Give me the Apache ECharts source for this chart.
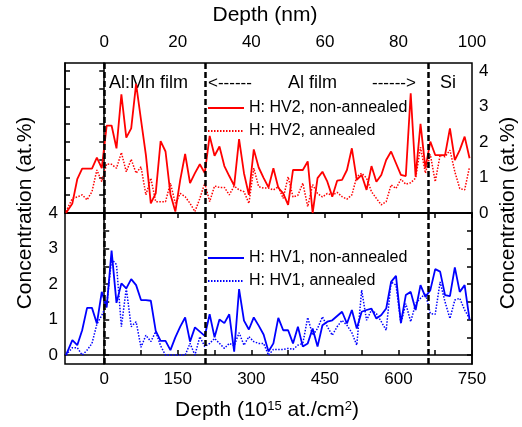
<!DOCTYPE html>
<html>
<head>
<meta charset="utf-8">
<script src="https://cdn.jsdelivr.net/npm/echarts@6/dist/echarts.min.js"></script>
<style>
  html, body { margin: 0; padding: 0; background: #fff; }
  #chart { width: 522px; height: 427px; }
</style>
</head>
<body>
<div id="chart"></div>
<script>
// depth in 10^15 at./cm2 (shared by all four profiles)
var depth = [-78, -65, -55, -45, -35, -25, -15, -5, 5, 15,
  25, 35, 45, 55, 65, 75, 85, 95, 105, 115,
  125, 135, 145, 155, 165, 175, 185, 195, 205, 215,
  225, 235, 245, 255, 265, 275, 285, 295, 305, 315,
  325, 335, 345, 355, 365, 375, 385, 395, 405, 415,
  425, 435, 445, 455, 465, 475, 485, 495, 505, 515,
  525, 535, 545, 555, 565, 575, 585, 595, 605, 615,
  625, 635, 645, 655, 665, 675, 685, 695, 705, 715,
  725, 735, 745];

// H concentration (at.%)
var hv2NonAnnealed = [0, 0.27, 0.95, 1.25, 1.25, 1.25, 1.56, 1.26, 2.46, 2.46,
  1.82, 3.34, 2.12, 2.38, 3.63, 2.62, 1.63, 0.27, 0.55, 2.02,
  1.73, 0.53, 0.04, 0.93, 1.66, 0.84, 1.12, 1.37, 1.12, 2.17,
  1.61, 1.87, 1.32, 1.04, 0.77, 2.08, 1.12, 0.51, 1.79, 1.28,
  0.99, 0.72, 1.26, 0.71, 0.55, 0.23, 1.21, 1.21, 1.21, 1.45,
  0, 0.98, 1.16, 0.88, 0.46, 0.91, 0.93, 1.21, 1.82, 0.93,
  1.07, 0.65, 1.32, 0.88, 1.07, 1.49, 1.73, 1.40, 1.07, 1.04,
  3.37, 1.02, 2.51, 1.26, 2.01, 1.63, 1.63, 1.63, 2.38, 1.49,
  1.77, 2.15, 1.54];
var hv2Annealed = [0.04, 0.41, 0.45, 0.51, 0.37, 0.6, 1.21, 0.88, 1.38, 1.37,
  1.26, 1.70, 1.16, 1.51, 1.12, 1.30, 0.51, 0.98, 0.32, 0.32,
  0.32, 0.84, 0.27, 0.55, 0.46, 0.27, 0.04, 0.41, 0.84, 0.32,
  0.76, 0.72, 0.72, 0.51, 0.76, 0.65, 0.6, 0.27, 1.26, 0.74,
  0.70, 0.7, 0.65, 0.74, 0.41, 1.02, 0.45, 0.5, 0.84, 0.18,
  0.8, 0.55, 0.45, 0.55, 0.5, 0.58, 0.46, 0.39, 0.51, 1.02,
  1.12, 0.98, 0.6, 0.41, 0.23, 0.32, 0.79, 0.69, 0.95, 0.81,
  0.85, 0.98, 1.85, 1.12, 1.65, 0.88, 1.63, 1.58, 1.77, 1.16,
  0.69, 0.65, 1.30];
var hv1NonAnnealed = [0, 0.42, 0.28, 0.70, 1.33, 1.33, 0.89, 1.78, 1.34, 2.94,
  1.47, 2.02, 1.88, 2.14, 1.97, 1.55, 1.55, 1.53, 0.68, 0.40,
  0.40, 0.14, 0.50, 0.80, 1.06, 0.38, 0.78, 0.66, 0.54, 1.15,
  0.50, 1.0, 0.9, 1.15, 0.1, 1.86, 0.97, 0.72, 1.06, 0.83,
  0.58, 0.1, 0.33, 1.05, 0.70, 0.70, 0.33, 0.80, 0.24, 0.33,
  0.75, 0.24, 0.84, 0.94, 0.98, 1.1, 1.22, 0.89, 1.27, 0.75,
  1.22, 1.27, 1.31, 1.03, 1.13, 1.31, 2.06, 2.23, 0.91, 1.69,
  1.78, 1.27, 1.97, 1.64, 1.83, 2.42, 2.35, 1.69, 1.66, 2.47,
  1.78, 1.97, 1.0];
var hv1Annealed = [0, 0.21, 0.21, 0, 0.14, 0.33, 0.87, 1.12, 1.41, 2.7,
  2.55, 0.8, 1.88, 0.8, 0.94, 0.22, 0.56, 0.38, 0.66, 0.26,
  0, 0, 0, 0, 0, 0.33, 0, 0.52, 0.24, 0.33,
  0.47, 0.33, 0.19, 0.33, 0.26, 0.63, 0.28, 0.52, 0.38, 0.33,
  0.33, 0, 0.16, 0.16, 0.16, 0.19, 0.16, 0.28, 0.33, 1.06,
  0.56, 0.75, 1.08, 0.80, 0.56, 0.8, 0.98, 0.84, 0.63, 0.28,
  1.83, 0.98, 1.27, 1.17, 0.94, 0.70, 2.06, 1.97, 0.89, 1.45,
  0.94, 1.45, 1.6, 1.74, 1.17, 1.15, 2.06, 1.5, 1.03, 1.55,
  1.6, 1.27, 1.03];

// layer boundaries (10^15 at./cm2)
var boundaries = [0, 205, 661];

// ticks
var depthTicks = [0, 75, 150, 225, 300, 375, 450, 525, 600, 675, 750];
var depthLabels = [0, 150, 300, 450, 600, 750];
var nmLabels = ['0', '20', '40', '60', '80', '100'];
var concTicks = [0, 0.5, 1, 1.5, 2, 2.5, 3, 3.5, 4];
var concLabels = [0, 1, 2, 3, 4];

var FONT = '"Liberation Sans", Arial, sans-serif';

function pairs(ys) {
  return depth.map(function (x, i) { return [x, ys[i]]; });
}

var chart = echarts.init(document.getElementById('chart'), null, { renderer: 'canvas' });

var frame = { show: true, lineStyle: { color: '#000', width: 1.5 } };
var tick = { show: true, inside: true, length: 5, lineStyle: { color: '#000', width: 1.5 } };

function xAx(gridIndex, pos, labelFmt) {
  return {
    type: 'value', gridIndex: gridIndex, position: pos, min: -80, max: 750,
    axisLine: frame,
    axisTick: Object.assign({}, tick, { customValues: depthTicks }),
    axisLabel: {
      show: true, customValues: depthLabels, color: '#000', fontSize: 17, fontFamily: FONT,
      margin: pos === 'top' ? 12 : 7, formatter: labelFmt
    },
    splitLine: { show: false }
  };
}
function yAx(gridIndex, pos, min, max, showLabels) {
  return {
    type: 'value', gridIndex: gridIndex, position: pos, min: min, max: max,
    axisLine: frame,
    axisTick: Object.assign({}, tick, { customValues: concTicks }),
    axisLabel: {
      show: showLabels, customValues: concLabels, color: '#000', fontSize: 17, fontFamily: FONT, margin: 7
    },
    splitLine: { show: false }
  };
}

var dashMark = {
  silent: true, symbol: 'none', label: { show: false },
  lineStyle: { color: '#000', width: 2.5, type: [6, 3] },
  data: boundaries.map(function (b) { return { xAxis: b }; })
};

function line(name, ys, color, dotted, xi, yi, mark) {
  var s = {
    name: name, type: 'line', xAxisIndex: xi, yAxisIndex: yi,
    data: pairs(ys), symbol: 'none', showSymbol: false, animation: false,
    lineStyle: { color: color, width: dotted ? 1.5 : 1.8, type: dotted ? [1.5, 1.5] : 'solid' },
    itemStyle: { color: color }
  };
  if (mark) s.markLine = dashMark;
  return s;
}

function txt(text, x, y, size, align, rot) {
  return {
    type: 'text', x: x, y: y, rotation: rot || 0, silent: true,
    style: {
      text: text, fill: '#000', fontSize: size, fontFamily: FONT,
      align: align || 'left', verticalAlign: 'middle',
      textAlign: align || 'left', textVerticalAlign: 'middle'
    }
  };
}

// legend: keep the line sample, hide the symbol drawn on it
function legendBox(names, top) {
  return {
    data: names,
    orient: 'vertical', left: 202, top: top, itemWidth: 36, itemHeight: 12, itemGap: 7,
    itemStyle: { opacity: 0 },
    textStyle: { color: '#000', fontSize: 16, fontFamily: FONT }, selectedMode: false
  };
}

chart.setOption({
  backgroundColor: '#fff',
  animation: false,
  grid: [
    { left: 65, right: 50, top: 63, height: 150, show: true, borderColor: '#000', borderWidth: 1.5, outerBoundsMode: 'none' },
    { left: 65, right: 50, top: 213, height: 151, show: true, borderColor: '#000', borderWidth: 1.5, outerBoundsMode: 'none' }
  ],
  xAxis: [
    xAx(0, 'top', function (v) { return nmLabels[depthLabels.indexOf(v)]; }),
    xAx(1, 'bottom', function (v) { return String(v); })
  ],
  yAxis: [
    yAx(0, 'right', 0, 4.22, true),
    yAx(0, 'left', 0, 4.22, false),
    yAx(1, 'left', -0.25, 4, true),
    yAx(1, 'right', -0.25, 4, false)
  ],
  legend: [
    legendBox(['H: HV2, non-annealed', 'H: HV2, annealed'], 95),
    legendBox(['H: HV1, non-annealed', 'H: HV1, annealed'], 245)
  ],
  series: [
    line('H: HV2, annealed', hv2Annealed, '#ff0000', true, 0, 0, false),
    line('H: HV2, non-annealed', hv2NonAnnealed, '#ff0000', false, 0, 0, true),
    line('H: HV1, annealed', hv1Annealed, '#0000ff', true, 1, 2, false),
    line('H: HV1, non-annealed', hv1NonAnnealed, '#0000ff', false, 1, 2, true)
  ],
  graphic: [
    txt('Depth (nm)', 265, 15, 21, 'center'),
    {
      type: 'text', x: 267, y: 410, silent: true,
      style: {
        text: 'Depth (10{sup|15} at./cm{sup|2})',
        fill: '#000', fontSize: 21, fontFamily: FONT,
        align: 'center', verticalAlign: 'middle', textAlign: 'center', textVerticalAlign: 'middle',
        rich: { sup: { fontSize: 13, fontFamily: FONT, fill: '#000', verticalAlign: 'top', padding: [0, 0, 8, 0] } }
      }
    },
    txt('Concentration (at.%)', 25, 213, 21, 'center', Math.PI / 2),
    txt('Concentration (at.%)', 508, 213, 21, 'center', Math.PI / 2),
    txt('Al:Mn film', 109, 83, 18),
    txt('<------', 208, 83, 17),
    txt('Al film', 288, 83, 18),
    txt('------>', 372, 83, 17),
    txt('Si', 440, 83, 18)
  ]
});
</script>
</body>
</html>
